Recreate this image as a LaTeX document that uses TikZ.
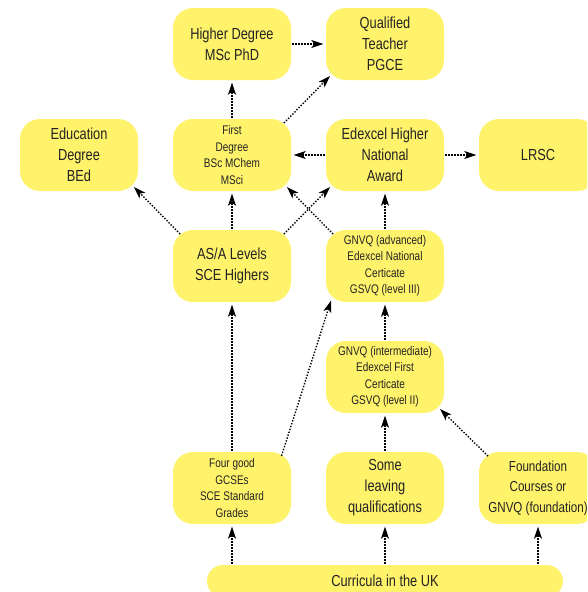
\documentclass[tikz,border=0pt]{standalone}
\usepackage{fontspec}
\setmainfont{Liberation Sans}[FakeStretch=0.8]
\usetikzlibrary{arrows.meta,calc}
\definecolor{boxyellow}{RGB}{255,243,108}
\definecolor{txt}{RGB}{35,35,35}
\begin{document}
\begin{tikzpicture}[x=1pt,y=-1pt,
 box/.style={fill=boxyellow,rounded corners=20pt,minimum width=118pt,minimum height=72pt,inner sep=0pt,align=center,text=txt,font=\fontsize{16}{21}\selectfont},
 smallbox/.style={box,font=\fontsize{12.5}{16.5}\selectfont},
 midbox/.style={box,font=\fontsize{14.5}{20.5}\selectfont},
 link/.style={draw=black,line width=1.4pt,dash pattern=on 1.4pt off 1.6pt,-{Stealth[length=12pt,width=8pt,inset=3pt]},shorten >=2.5pt,shorten <=1pt}]
\useasboundingbox (0,0) rectangle (587,592);
\clip (0,0) rectangle (587,592);
\node[box] (higher) at (232,44) {Higher Degree\\MSc PhD};
\node[box] (teacher) at (385,44) {Qualified\\Teacher\\PGCE};
\node[box] (edu) at (79,155) {Education\\Degree\\BEd};
\node[smallbox] (first) at (232,155) {First\\Degree\\BSc MChem\\MSci};
\node[box] (hna) at (385,155) {Edexcel Higher\\National\\Award};
\node[box] (lrsc) at (538,155) {LRSC};
\node[box] (alevel) at (232,266) {AS/A Levels\\SCE Highers};
\node[smallbox] (adv) at (385,266) {GNVQ (advanced)\\Edexcel National\\Certicate\\GSVQ (level III)};
\node[smallbox] (inter) at (385,377) {GNVQ (intermediate)\\Edexcel First\\Certicate\\GSVQ (level II)};
\node[smallbox] (gcse) at (232,488) {Four good\\GCSEs\\SCE Standard\\Grades};
\node[box] (leaving) at (385,488) {Some\\leaving\\qualifications};
\node[midbox] (found) at (538,488) {Foundation\\Courses or\\GNVQ (foundation)};
\node[box,minimum width=356pt,minimum height=32pt,rounded corners=16pt] (curr) at (385,581) {Curricula in the UK};

\draw[link] (higher.east) -- (teacher.west);
\draw[link] (first.north) -- (higher.south);
\draw[link] ($(first.north east)+(-8,5)$) -- ($(teacher.south west)+(6,-6)$);
\draw[link] ($(alevel.north west)+(8,5)$) -- ($(edu.south east)+(-6,-6)$);
\draw[link] (alevel.north) -- (first.south);
\draw[link] ($(alevel.north east)+(-8,5)$) -- ($(hna.south west)+(6,-6)$);
\draw[link] ($(adv.north west)+(8,5)$) -- ($(first.south east)+(-6,-6)$);
\draw[link] (adv.north) -- (hna.south);
\draw[link] (hna.west) -- (first.east);
\draw[link] (hna.east) -- (lrsc.west);
\draw[link] (inter.north) -- (adv.south);
\draw[link] ($(gcse.north east)+(-10,5)$) -- ($(adv.south west)+(6,-4)$);
\draw[link] (gcse.north) -- (alevel.south);
\draw[link] (leaving.north) -- (inter.south);
\draw[link] ($(found.north west)+(10,5)$) -- ($(inter.south east)+(-6,-6)$);
\draw[link] (curr.north -| gcse.south) -- (gcse.south);
\draw[link] (curr.north -| leaving.south) -- (leaving.south);
\draw[link] (curr.north -| found.south) -- (found.south);
\end{tikzpicture}
\end{document}
